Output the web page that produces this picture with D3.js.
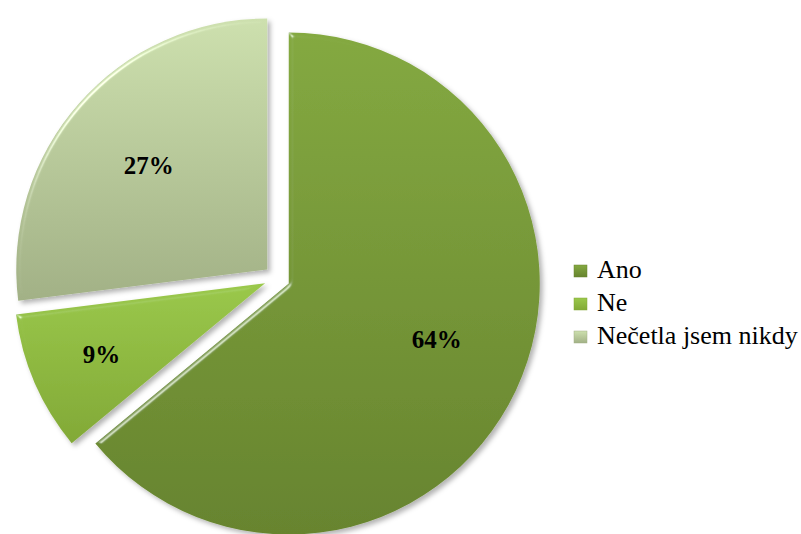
<!DOCTYPE html>
<html>
<head>
<meta charset="utf-8">
<script src="https://cdn.jsdelivr.net/npm/d3@7"></script>
</head>
<body style="margin:0">
<svg id="chart" width="801" height="534" font-family="Liberation Serif"></svg>
<script>
// data
const categories = ["Ano", "Ne", "Nečetla jsem nikdy"];
const values = [64, 9, 27];
const percentLabels = ["64%", "9%", "27%"];

// look
const colorTop = ["#84a941", "#9ac84b", "#cde0ae"];
const colorBottom = ["#67842f", "#82a937", "#a2b186"];
const labelPos = [0.63, 0.71, 0.63];
const labelTurn = [-0.08, 0, 0];
const fontFamily = "Liberation Serif";

const cx = 277, cy = 278, radius = 251, explode = 13;

const svg = d3.select("#chart");

const defs = svg.append("defs");

categories.forEach((c, i) => {
  const g = defs.append("linearGradient")
    .attr("id", "grad" + i)
    .attr("x1", 0).attr("y1", 0).attr("x2", 0).attr("y2", 1);
  g.append("stop").attr("offset", "0%").attr("stop-color", colorTop[i]);
  g.append("stop").attr("offset", "100%").attr("stop-color", colorBottom[i]);
});

// bevel + soft shadow
const f = defs.append("filter").attr("id", "bevel")
  .attr("x", "-10%").attr("y", "-10%").attr("width", "120%").attr("height", "120%");
f.append("feGaussianBlur").attr("in", "SourceAlpha").attr("stdDeviation", 2.5).attr("result", "blur");
const spec = f.append("feSpecularLighting").attr("in", "blur")
  .attr("surfaceScale", 3).attr("specularConstant", 0.5)
  .attr("specularExponent", 60).attr("lighting-color", "#ffffff")
  .attr("result", "spec");
spec.append("feDistantLight").attr("azimuth", 225).attr("elevation", 35);
f.append("feComposite").attr("in", "spec").attr("in2", "SourceAlpha")
  .attr("operator", "in").attr("result", "specIn");
f.append("feComposite").attr("in", "SourceGraphic").attr("in2", "specIn")
  .attr("operator", "arithmetic").attr("k1", 0).attr("k2", 1).attr("k3", 1).attr("k4", 0)
  .attr("result", "lit");
f.append("feOffset").attr("in", "blur").attr("dx", 3).attr("dy", 3).attr("result", "off");
f.append("feFlood").attr("flood-color", "#000").attr("flood-opacity", 0.3);
f.append("feComposite").attr("in2", "off").attr("operator", "in").attr("result", "shadow");
const merge = f.append("feMerge");
merge.append("feMergeNode").attr("in", "shadow");
merge.append("feMergeNode").attr("in", "lit");

const pie = d3.pie().sort(null).value(d => d);
const arcs = pie(values);
const arc = d3.arc().innerRadius(0).outerRadius(radius);

const g = svg.append("g").attr("transform", `translate(${cx},${cy})`);

const slices = g.selectAll("g.slice")
  .data(arcs)
  .enter()
  .append("g")
  .attr("class", "slice")
  .attr("transform", d => {
    const a = (d.startAngle + d.endAngle) / 2;
    return `translate(${explode * Math.sin(a)},${-explode * Math.cos(a)})`;
  });

slices.append("path")
  .attr("d", arc)
  .attr("fill", (d, i) => `url(#grad${i})`)
  .attr("filter", "url(#bevel)");

slices.append("text")
  .attr("transform", (d, i) => {
    const a = (d.startAngle + d.endAngle) / 2 + labelTurn[i];
    const r = radius * labelPos[i];
    return `translate(${r * Math.sin(a)},${-r * Math.cos(a)})`;
  })
  .attr("dy", "0.35em")
  .attr("text-anchor", "middle")
  .attr("font-family", fontFamily)
  .attr("font-weight", "bold")
  .attr("font-size", 25)
  .attr("fill", "#000")
  .text((d, i) => percentLabels[i]);

// legend
const legend = svg.append("g").attr("transform", "translate(574,278)");
const rowH = 33;

const item = legend.selectAll("g")
  .data(categories)
  .enter()
  .append("g")
  .attr("transform", (d, i) => `translate(0,${i * rowH})`);

item.append("rect")
  .attr("x", 0)
  .attr("y", -13)
  .attr("width", 13)
  .attr("height", 12)
  .attr("fill", (d, i) => `url(#grad${i})`)
  .attr("stroke", (d, i) => colorBottom[i])
  .attr("stroke-width", 0.5);

item.append("text")
  .attr("x", 23)
  .attr("y", 0)
  .attr("font-family", fontFamily)
  .attr("font-size", 26)
  .attr("fill", "#000")
  .text(d => d);
</script>
</body>
</html>
